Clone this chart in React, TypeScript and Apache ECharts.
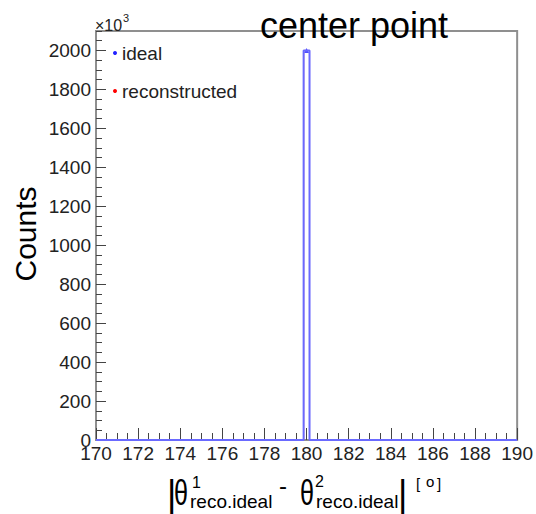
import React, { useEffect, useRef } from "react";
import * as echarts from "echarts";

// ---- data (counts in units of 10^3) ----
const binLowEdges = [170, 179.86, 180.14];
const lastBinUpEdge = 190;
const idealCounts = [0, 2000, 0];
const recoCounts = [0, 2000, 0];
const peakX = [180];
const peakIdeal = [2000];
const xRange = [170, 190];
const yRange = [0, 2100];
const seriesNames = ["ideal", "reconstructed"];
const titleText = "center point";
const yTitle = "Counts";

const FONT = "Liberation Sans";

function stepData(edges: number[], counts: number[], upper: number) {
  const pts: number[][] = edges.map((e, i) => [e, counts[i]]);
  pts.push([upper, counts[counts.length - 1]]);
  return pts;
}

// x-axis title pieces (layout only)
const xTitleParts = [
  { t: "|", x: 167, y: 493, s: 36, sx: 1 },
  { t: "θ", x: 174, y: 493, s: 36, sx: 0.7 },
  { t: "1", x: 192, y: 482, s: 16, sx: 1 },
  { t: "reco.ideal", x: 190, y: 501, s: 19, sx: 1 },
  { t: "-", x: 279, y: 485, s: 24, sx: 1 },
  { t: "θ", x: 300, y: 493, s: 36, sx: 0.7 },
  { t: "2", x: 315, y: 481, s: 16, sx: 1 },
  { t: "reco.ideal", x: 316, y: 501, s: 19, sx: 1 },
  { t: "|", x: 398, y: 493, s: 36, sx: 1 },
  { t: "[", x: 416, y: 483, s: 15, sx: 1 },
  { t: "o", x: 426, y: 481, s: 15, sx: 1 },
  { t: "]", x: 437, y: 483, s: 15, sx: 1 },
];

export default function App() {
  const ref = useRef<HTMLDivElement>(null);
  useEffect(() => {
    document.body.style.margin = "0";
    const chart = echarts.init(ref.current!, null, { renderer: "svg" });
    const graphics: any[] = [
      {
        type: "text",
        x: 354,
        y: 25,
        z: 1,
        style: {
          text: titleText,
          font: `36px "${FONT}"`,
          fill: "#000",
          align: "center",
          verticalAlign: "middle",
        },
      },
      {
        type: "text",
        x: 25,
        y: 234,
        rotation: Math.PI / 2,
        style: {
          text: yTitle,
          font: `30px "${FONT}"`,
          fill: "#000",
          align: "center",
          verticalAlign: "middle",
        },
      },
      {
        type: "text",
        x: 95,
        y: 25,
        style: {
          text: "×10",
          font: `16px "${FONT}"`,
          fill: "#222",
          align: "left",
          verticalAlign: "middle",
        },
      },
      {
        type: "text",
        x: 123,
        y: 18,
        style: {
          text: "3",
          font: `11px "${FONT}"`,
          fill: "#222",
          align: "left",
          verticalAlign: "middle",
        },
      },
      ...xTitleParts.map((p) => ({
        type: "text",
        x: p.x,
        y: p.y,
        scaleX: p.sx,
        style: {
          text: p.t,
          font: `${p.s}px "${FONT}"`,
          fill: "#000",
          align: "left",
          verticalAlign: "middle",
        },
      })),
    ];

    const yBase = {
      type: "value",
      min: yRange[0],
      max: yRange[1],
      position: "left",
      axisLine: { show: false },
      splitLine: { show: false },
    };

    chart.setOption({
      animation: false,
      grid: {
        left: 96,
        top: 31,
        right: 17,
        bottom: 74,
        show: true,
        borderColor: "#8f8f8f",
        borderWidth: 2,
        backgroundColor: "transparent",
      },
      legend: {
        data: seriesNames,
        orient: "vertical",
        left: 113,
        top: 43,
        padding: 0,
        itemGap: 18,
        icon: "circle",
        itemWidth: 4,
        itemHeight: 4,
        textStyle: {
          fontFamily: FONT,
          fontSize: 19,
          lineHeight: 20,
          color: "#222",
        },
      },
      xAxis: {
        type: "value",
        min: xRange[0],
        max: xRange[1],
        interval: 2,
        axisLine: { show: false },
        splitLine: { show: false },
        axisTick: {
          show: true,
          inside: true,
          length: 12,
          lineStyle: { color: "#444", width: 1 },
        },
        minorTick: {
          show: true,
          splitNumber: 4,
          length: 7,
          lineStyle: { color: "#444", width: 1 },
        },
        axisLabel: {
          margin: 4,
          fontFamily: FONT,
          fontSize: 19,
          color: "#222",
        },
      },
      yAxis: [
        {
          ...yBase,
          interval: 50,
          axisTick: {
            show: true,
            inside: true,
            length: 6,
            lineStyle: { color: "#444", width: 1 },
          },
          axisLabel: { show: false },
        },
        {
          ...yBase,
          interval: 200,
          axisTick: {
            show: true,
            inside: true,
            length: 10,
            lineStyle: { color: "#444", width: 1 },
          },
          axisLabel: {
            margin: 5,
            showMaxLabel: false,
            fontFamily: FONT,
            fontSize: 19,
            color: "#222",
            formatter: (v: number) => (v > 2000 ? "" : String(v)),
          },
        },
      ],
      series: [
        {
          name: seriesNames[1],
          type: "line",
          yAxisIndex: 1,
          step: "end",
          showSymbol: false,
          color: "#ff0000",
          lineStyle: { color: "#ff0000", width: 1 },
          data: stepData(binLowEdges, recoCounts, lastBinUpEdge),
        },
        {
          name: seriesNames[0],
          type: "line",
          yAxisIndex: 1,
          step: "end",
          showSymbol: false,
          color: "#2222ff",
          lineStyle: { color: "#6a6aff", width: 2 },
          data: stepData(binLowEdges, idealCounts, lastBinUpEdge),
        },
        {
          name: "idealPeak",
          type: "scatter",
          yAxisIndex: 1,
          symbol: "triangle",
          symbolSize: 5,
          itemStyle: { color: "#2222ff" },
          data: peakX.map((x, i) => [x, peakIdeal[i]]),
        },
      ],
      graphic: graphics,
    });
    return () => chart.dispose();
  }, []);
  return <div ref={ref} style={{ width: 536, height: 514 }} />;
}
